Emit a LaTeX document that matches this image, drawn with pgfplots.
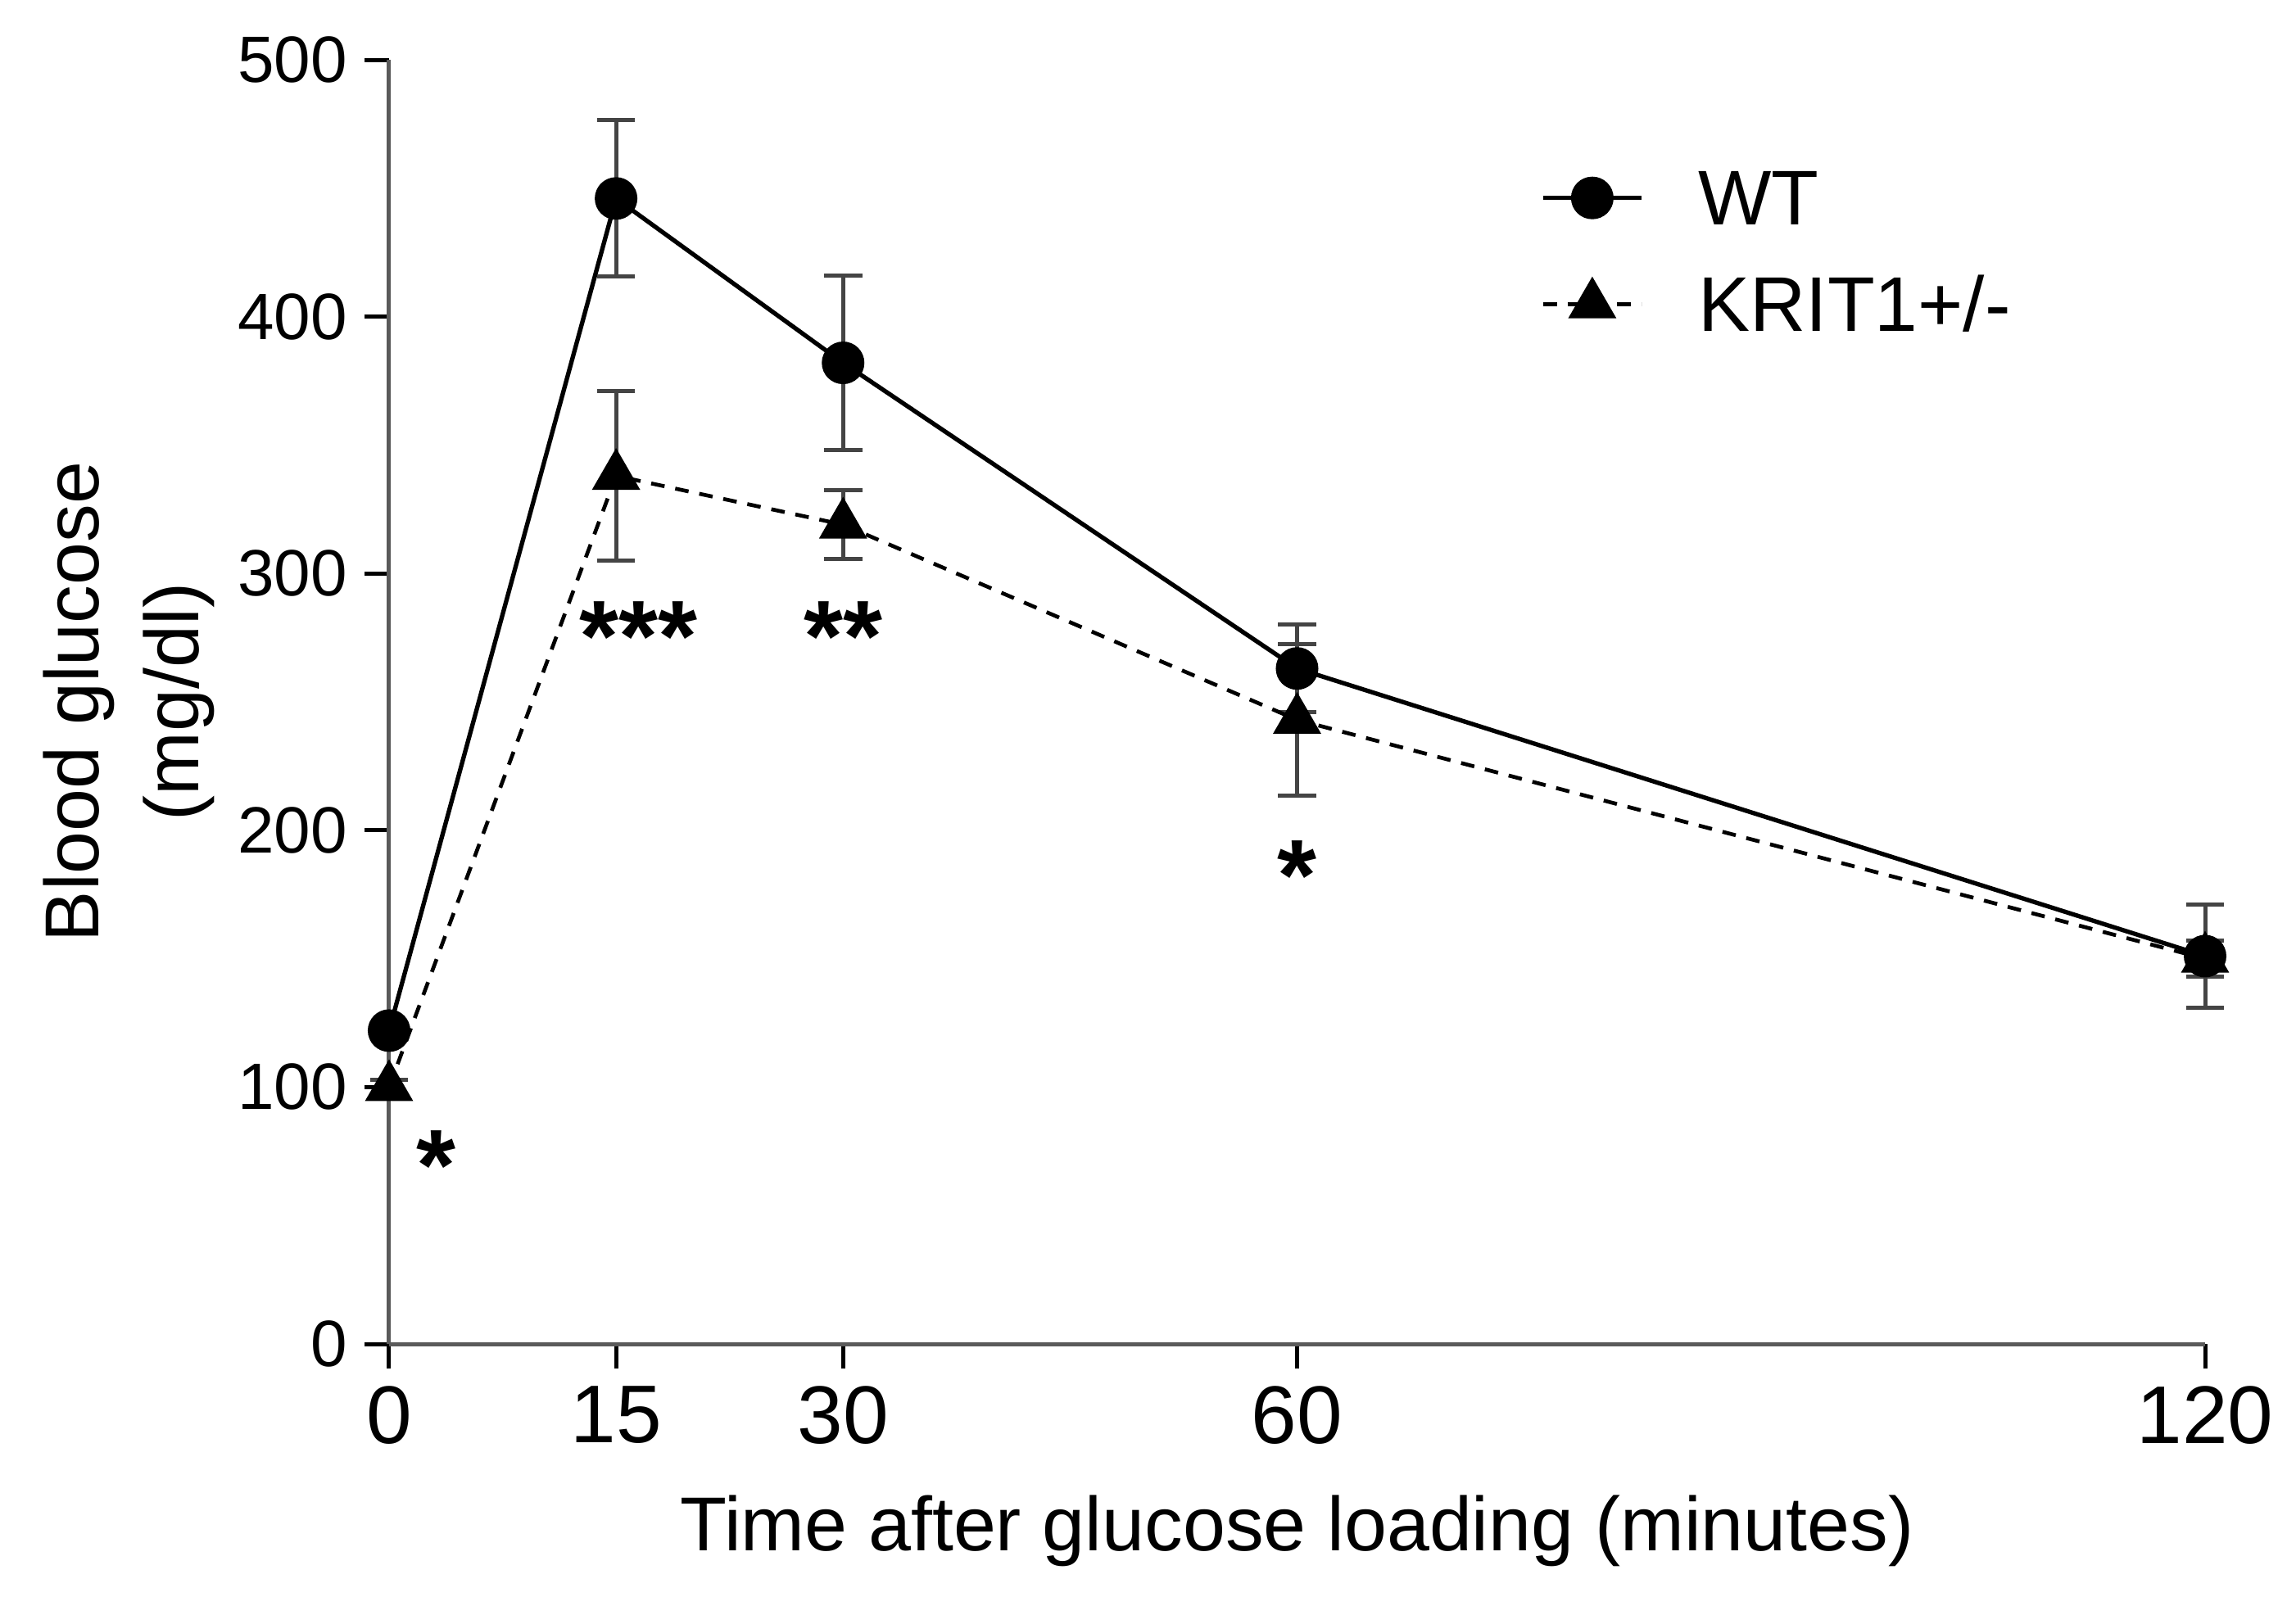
\documentclass[border=0pt]{standalone}
\usepackage{fontspec}
\setmainfont{Liberation Sans}
\usepackage{pgfplots}
\pgfplotsset{compat=1.18}
\definecolor{axgray}{HTML}{5A5A5A}
\definecolor{errgray}{HTML}{444444}
\begin{document}
\begin{tikzpicture}
\path[use as bounding box] (-71.25pt,-46.2pt) rectangle (349.2pt,246.15pt);
\begin{axis}[
  at={(0pt,0pt)}, anchor=south west,
  scale only axis, width=332.55pt, height=235.2pt,
  xmin=0, xmax=120, ymin=0, ymax=500,
  axis lines*=left,
  axis line style={axgray, line width=0.75pt},
  xtick={0,15,30,60,120}, ytick={0,100,200,300,400,500},
  tick align=outside, major tick length=4.5pt,
  tick style={black, line width=0.75pt},
  x tick label style={font=\fontsize{15}{18}\selectfont, inner sep=3pt},
  y tick label style={font=\fontsize{12}{14}\selectfont, inner sep=3pt},
  /pgf/number format/assume math mode=true,
  clip=false,
  xlabel={Time after glucose loading (minutes)},
  xlabel style={font=\fontsize{14}{17}\selectfont, at={(axis description cs:0.5,0)}, anchor=base, yshift=-37.8pt},
  ylabel={Blood glucose\\(mg/dl)},
  ylabel style={font=\fontsize{14}{18.3}\selectfont, align=center, at={(axis description cs:-0.1434,0.5)}, anchor=center},
  legend cell align=left,
  legend image code/.code={\draw[#1, mark=none] (0pt,0.9pt) -- (18pt,0.9pt); \draw[#1] plot coordinates {(9pt,0.9pt)};},
  legend style={draw=none, fill=none, at={(axis description cs:0.6337,0.9192)}, anchor=north west,
    inner sep=0pt, row sep=5.5pt,
    nodes={inner sep=0pt, text height=11pt, text depth=3pt, font=\fontsize{14.2}{17}\selectfont},
    /tikz/every odd column/.append style={column sep=10pt}},
]
\addplot[black, line width=0.8pt, mark=*, mark size=3.5pt,
  error bars/.cd, y dir=both, y explicit,
  error bar style={errgray, line width=0.75pt, solid},
  error mark options={errgray, line width=0.75pt, mark size=3.5pt, rotate=90, solid}]
  coordinates {
    (0,122) +- (0,3)
    (15,446) +- (0,30.5)
    (30,382) +- (0,34)
    (60,263) +- (0,17)
    (120,151) +- (0,20)
  };
\addlegendentry{WT}
\addplot[black, line width=0.7pt, dash pattern=on 2.5pt off 2pt, mark=triangle*, mark size=4.4pt, mark options={solid},
  error bars/.cd, y dir=both, y explicit,
  error bar style={errgray, line width=0.75pt, solid},
  error mark options={errgray, line width=0.75pt, mark size=3.5pt, rotate=90, solid}]
  coordinates {
    (0,100) +- (0,3)
    (15,338) +- (0,33)
    (30,319) +- (0,13.5)
    (60,243) +- (0,29.5)
    (120,150) +- (0,7)
  };
\addlegendentry{KRIT1+/-}
\node[anchor=base, font=\fontsize{18.5}{20}\selectfont\bfseries] at (axis cs:3.1,56) {*};
\node[anchor=base, font=\fontsize{18.5}{20}\selectfont\bfseries] at (axis cs:16.5,262) {***};
\node[anchor=base, font=\fontsize{18.5}{20}\selectfont\bfseries] at (axis cs:30.0,262) {**};
\node[anchor=base, font=\fontsize{18.5}{20}\selectfont\bfseries] at (axis cs:60.0,169) {*};
\end{axis}
\end{tikzpicture}
\end{document}
